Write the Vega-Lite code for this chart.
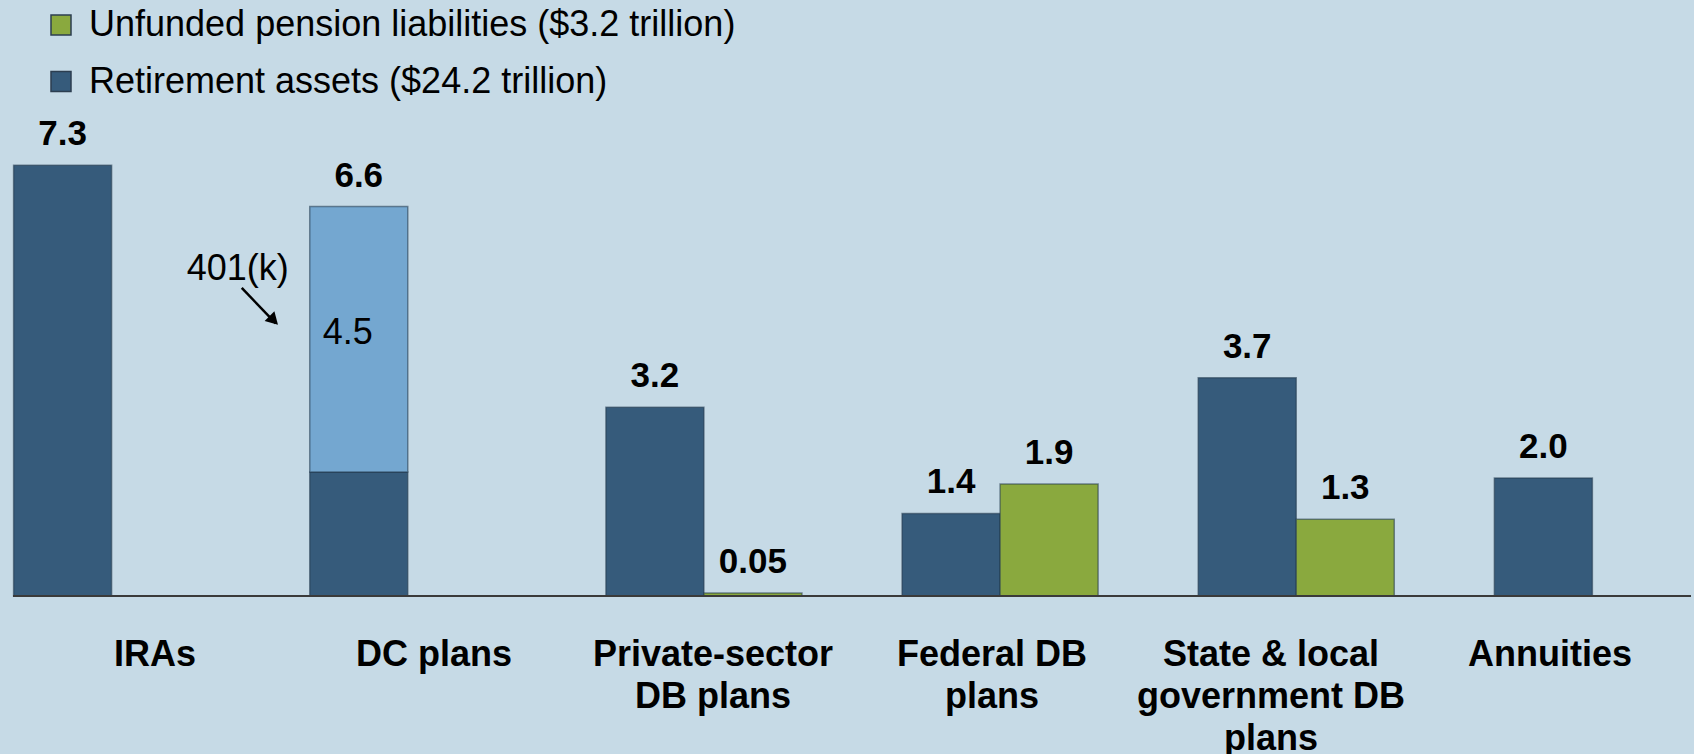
{
  "$schema": "https://vega.github.io/schema/vega-lite/v6.json",
  "width": 1678,
  "height": 596,
  "autosize": {"type": "none"},
  "padding": {"left": 13, "top": 0, "right": 3, "bottom": 158},
  "background": "#c6dae6",
  "config": {"view": {"stroke": null}, "font": "Liberation Sans"},
  "datasets": {
    "bars": [
      {"category": "IRAs", "series": "assets", "part": "Retirement assets ($24.2 trillion)", "lo": 0, "hi": 7.3, "label": "7.3"},
      {"category": "DC plans", "series": "assets", "part": "Retirement assets ($24.2 trillion)", "lo": 0, "hi": 2.1, "label": ""},
      {"category": "DC plans", "series": "assets", "part": "401(k)", "lo": 2.1, "hi": 6.6, "label": "6.6"},
      {"category": "Private-sector|DB plans", "series": "assets", "part": "Retirement assets ($24.2 trillion)", "lo": 0, "hi": 3.2, "label": "3.2"},
      {"category": "Private-sector|DB plans", "series": "liabilities", "part": "Unfunded pension liabilities ($3.2 trillion)", "lo": 0, "hi": 0.05, "label": "0.05"},
      {"category": "Federal DB|plans", "series": "assets", "part": "Retirement assets ($24.2 trillion)", "lo": 0, "hi": 1.4, "label": "1.4"},
      {"category": "Federal DB|plans", "series": "liabilities", "part": "Unfunded pension liabilities ($3.2 trillion)", "lo": 0, "hi": 1.9, "label": "1.9"},
      {"category": "State & local|government DB|plans", "series": "assets", "part": "Retirement assets ($24.2 trillion)", "lo": 0, "hi": 3.7, "label": "3.7"},
      {"category": "State & local|government DB|plans", "series": "liabilities", "part": "Unfunded pension liabilities ($3.2 trillion)", "lo": 0, "hi": 1.3, "label": "1.3"},
      {"category": "Annuities", "series": "assets", "part": "Retirement assets ($24.2 trillion)", "lo": 0, "hi": 2.0, "label": "2.0"}
    ],
    "inner": [
      {"category": "DC plans", "series": "assets", "at": 4.45, "text": "4.5"}
    ],
    "note": [
      {"category": "DC plans", "at": 5.36, "text": "401(k)"}
    ],
    "arrow": [
      {"category": "DC plans", "from": 5.22, "to": 4.62}
    ],
    "head": [
      {"category": "DC plans", "at": 4.67}
    ],
    "cats": [
      {"category": "IRAs"},
      {"category": "DC plans"},
      {"category": "Private-sector|DB plans"},
      {"category": "Federal DB|plans"},
      {"category": "State & local|government DB|plans"},
      {"category": "Annuities"}
    ]
  },
  "layer": [
    {
      "layer": [
        {
          "data": {"name": "bars"},
          "mark": {"type": "bar", "stroke": "#22384c", "strokeOpacity": 0.55, "strokeWidth": 1.5},
          "encoding": {
            "x": {"field": "category", "type": "nominal", "sort": null,
                  "scale": {"domain": ["IRAs", "DC plans", "Private-sector|DB plans", "Federal DB|plans", "State & local|government DB|plans", "Annuities"], "paddingInner": 0.338, "paddingOuter": 0.002},
                  "axis": null},
            "xOffset": {"field": "series", "type": "nominal", "scale": {"domain": ["assets", "liabilities"], "paddingInner": 0, "paddingOuter": 0}},
            "y": {"field": "lo", "type": "quantitative", "scale": {"domain": [0, 10.1], "nice": false}, "axis": null},
            "y2": {"field": "hi"},
            "color": {"field": "part", "type": "nominal",
                      "scale": {"domain": ["Unfunded pension liabilities ($3.2 trillion)", "Retirement assets ($24.2 trillion)", "401(k)"], "range": ["#8aa93e", "#365b7b", "#74a7d0"]},
                      "legend": {"orient": "none", "legendX": 30, "legendY": 7, "values": ["Unfunded pension liabilities ($3.2 trillion)", "Retirement assets ($24.2 trillion)"],
                                 "title": null, "symbolType": "square", "symbolSize": 400, "symbolOpacity": 1, "symbolStrokeColor": "#2c3e50", "symbolStrokeWidth": 1.5,
                                 "labelFontSize": 36, "labelFont": "Liberation Sans", "labelColor": "#000000", "labelLimit": 0, "labelOffset": 10, "rowPadding": 20.5, "padding": 0, "direction": "vertical"}}
          }
        },
        {
          "data": {"name": "bars"},
          "mark": {"type": "text", "fontSize": 35, "fontWeight": "bold", "font": "Liberation Sans", "color": "#000000", "align": "center", "baseline": "alphabetic", "dy": -20},
          "encoding": {
            "x": {"field": "category", "type": "nominal", "sort": null},
            "xOffset": {"field": "series", "type": "nominal"},
            "y": {"field": "hi", "type": "quantitative"},
            "text": {"field": "label"}
          }
        },
        {
          "data": {"values": [{"base": 0}]},
          "mark": {"type": "rule", "color": "#3a3a3a", "strokeWidth": 2},
          "encoding": {"y": {"field": "base", "type": "quantitative"}}
        },
        {
          "data": {"name": "inner"},
          "mark": {"type": "text", "fontSize": 36, "font": "Liberation Sans", "color": "#000000", "align": "center", "baseline": "middle", "dx": -11},
          "encoding": {
            "x": {"field": "category", "type": "nominal", "sort": null},
            "xOffset": {"field": "series", "type": "nominal"},
            "y": {"field": "at", "type": "quantitative"},
            "text": {"field": "text"}
          }
        },
        {
          "data": {"name": "note"},
          "mark": {"type": "text", "fontSize": 36, "font": "Liberation Sans", "color": "#000000", "align": "center", "baseline": "alphabetic", "dx": -72},
          "encoding": {
            "x": {"field": "category", "type": "nominal", "sort": null, "bandPosition": 0},
            "y": {"field": "at", "type": "quantitative"},
            "text": {"field": "text"}
          }
        },
        {
          "data": {"name": "arrow"},
          "mark": {"type": "rule", "color": "#000000", "strokeWidth": 2.5, "xOffset": -68, "x2Offset": -34},
          "encoding": {
            "x": {"field": "category", "type": "nominal", "sort": null, "bandPosition": 0},
            "x2": {"field": "category", "bandPosition": 0},
            "y": {"field": "from", "type": "quantitative"},
            "y2": {"field": "to"}
          }
        },
        {
          "data": {"name": "head"},
          "mark": {"type": "point", "shape": "triangle-up", "filled": true, "color": "#000000", "opacity": 1, "size": 190, "angle": 135, "xOffset": -36},
          "encoding": {
            "x": {"field": "category", "type": "nominal", "sort": null, "bandPosition": 0},
            "y": {"field": "at", "type": "quantitative"}
          }
        }
      ]
    },
    {
      "data": {"name": "cats"},
      "mark": {"type": "point", "opacity": 0},
      "encoding": {
        "x": {"field": "category", "type": "nominal", "sort": null,
              "scale": {"type": "point", "padding": 0.507, "domain": ["IRAs", "DC plans", "Private-sector|DB plans", "Federal DB|plans", "State & local|government DB|plans", "Annuities"]},
              "axis": {"orient": "bottom", "title": null, "domain": false, "ticks": false, "grid": false, "labelAngle": 0,
                       "labelFontSize": 36, "labelFontWeight": "bold", "labelFont": "Liberation Sans", "labelColor": "#000000",
                       "labelPadding": 41, "labelBaseline": "top", "labelLineHeight": 42, "labelLimit": 0, "labelOverlap": false, "labelBound": false,
                       "labelExpr": "split(datum.value, '|')"}}
      }
    }
  ],
  "resolve": {"scale": {"x": "independent"}}
}
